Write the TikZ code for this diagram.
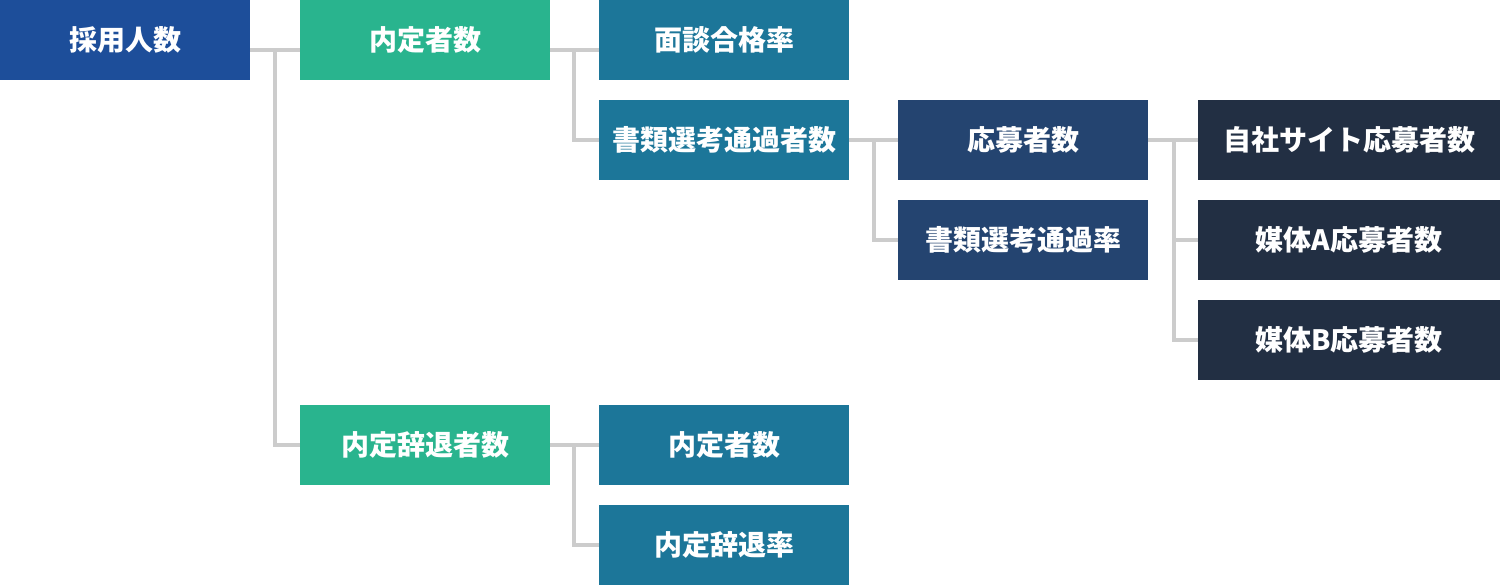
\documentclass[tikz,border=0pt]{standalone}
\usepackage{fontspec}
\newfontfamily\jpfont{Noto Sans CJK JP}

\definecolor{lvonecol}{HTML}{1D4E9A}
\definecolor{lvtwocol}{HTML}{29B48E}
\definecolor{lvthreecol}{HTML}{1C7699}
\definecolor{lvfourcol}{HTML}{244470}
\definecolor{lvfivecol}{HTML}{222F43}
\definecolor{linkgray}{HTML}{CCCCCC}

\begin{document}
\begin{tikzpicture}[
		x=1pt,
		y=-1pt,
		box/.style={anchor=north west, minimum width=250pt, minimum height=80pt,
			inner sep=0pt, outer sep=0pt, text=white,
			font=\jpfont\bfseries\fontsize{28}{32}\selectfont},
		lv1/.style={box, fill=lvonecol},
		lv2/.style={box, fill=lvtwocol},
		lv3/.style={box, fill=lvthreecol},
		lv4/.style={box, fill=lvfourcol},
		lv5/.style={box, fill=lvfivecol, minimum width=302pt},
		link/.style={draw=linkgray, line width=4pt}
		]
	
	\useasboundingbox (0, 0) rectangle (1500, 585);
	
	% Level 1
	\node[lv1] (saiyo) at (0, 0) {採用人数};
	
	% Level 2
	\node[lv2] (naitei) at (300, 0) {内定者数};
	\node[lv2] (jitai) at (300, 405) {内定辞退者数};
	
	% Level 3
	\node[lv3] (mendan) at (599, 0) {面談合格率};
	\node[lv3] (shorui) at (599, 100) {書類選考通過者数};
	\node[lv3] (naiteisub) at (599, 405) {内定者数};
	\node[lv3] (jitairitsu) at (599, 505) {内定辞退率};
	
	% Level 4
	\node[lv4] (oubo) at (898, 100) {応募者数};
	\node[lv4] (shoruiritsu) at (898, 200) {書類選考通過率};
	
	% Level 5
	\node[lv5] (jisha) at (1198, 100) {自社サイト応募者数};
	\node[lv5] (baitaiA) at (1198, 200) {媒体A応募者数};
	\node[lv5] (baitaiB) at (1198, 300) {媒体B応募者数};
	
	% Links from level 1
	\draw[link] ([yshift=-10pt]saiyo.east) -- ([yshift=-10pt]naitei.west);
	\draw[link] ([xshift=25pt, yshift=-10pt]saiyo.east) |- (jitai.west);
	
	% Links from level 2
	\draw[link] ([yshift=-10pt]naitei.east) -- ([yshift=-10pt]mendan.west);
	\draw[link] ([xshift=24pt, yshift=-10pt]naitei.east) |- (shorui.west);
	\draw[link] (jitai.east) -- (naiteisub.west);
	\draw[link] ([xshift=24pt]jitai.east) |- (jitairitsu.west);
	
	% Links from level 3
	\draw[link] (shorui.east) -- (oubo.west);
	\draw[link] ([xshift=25pt]shorui.east) |- (shoruiritsu.west);
	
	% Links from level 4
	\draw[link] (oubo.east) -- (jisha.west);
	\draw[link] ([xshift=26pt]oubo.east) |- (baitaiA.west);
	\draw[link] ([xshift=26pt]oubo.east) |- (baitaiB.west);
	
\end{tikzpicture}
\end{document}
